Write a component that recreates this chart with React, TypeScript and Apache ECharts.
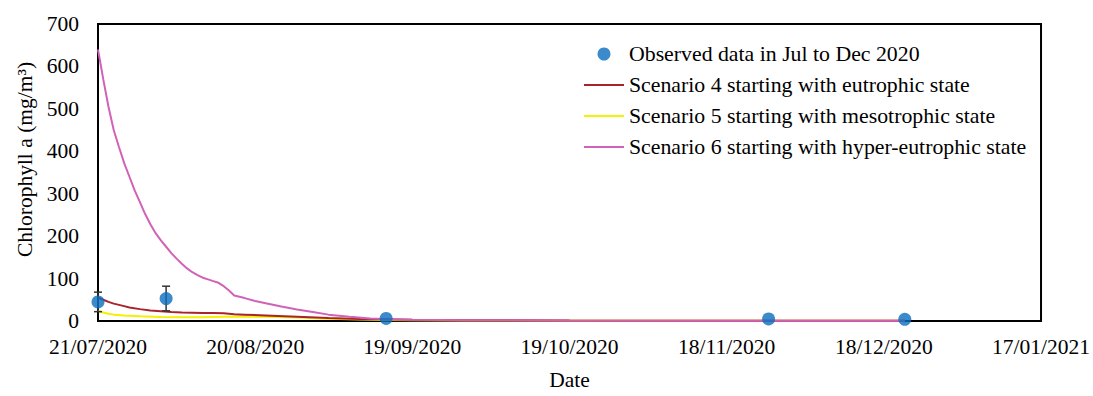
import React, { useEffect, useRef } from "react";
import * as echarts from "echarts";

// Days counted from 21/07/2020
const START_DATE = Date.UTC(2020, 6, 21);
const xTickDays = [0, 30, 60, 90, 120, 150, 180];

// Observed data
const obsDates = ["2020-07-21", "2020-08-03", "2020-09-14", "2020-11-26", "2020-12-22"];
const obsValues = [45, 53, 6, 5, 4];
const obsErrors = [23, 29, 0, 0, 0];

// Scenario 4 (eutrophic start)
const s4Days = [0, 1, 2, 3, 4, 5, 6, 8, 10, 12, 14, 16, 18, 20, 22, 24, 26, 28, 32, 38, 44, 50, 55, 60, 70, 90, 120, 154];
const s4Values = [55, 50, 45, 41, 38, 35, 32, 28, 25, 23, 21, 20, 19.5, 19, 19, 18, 16, 15, 13, 10, 7, 5, 4, 3, 2, 1, 0.5, 0.3];

// Scenario 5 (mesotrophic start)
const s5Days = [0, 1, 2, 3, 5, 8, 12, 16, 20, 24, 28, 32, 38, 44, 50, 55, 60, 70, 90, 120, 154];
const s5Values = [24, 20, 17, 15, 13, 11, 9.5, 9, 9, 10, 10.5, 10, 8, 5.5, 3.5, 2.5, 2, 1.2, 0.8, 0.5, 0.3];

// Scenario 6 (hyper-eutrophic start)
const s6Days = [0, 1, 2, 3, 4, 5, 6, 7, 8, 9, 10, 11, 12, 13, 14, 15, 16, 17, 18, 19, 20, 21, 22, 23, 24, 25, 26, 28, 30, 32, 35, 38, 41, 44, 48, 52, 56, 60, 70, 90, 120, 154];
const s6Values = [640, 570, 505, 450, 410, 372, 340, 308, 280, 252, 228, 207, 190, 175, 160, 147, 135, 124, 115, 108, 102, 98, 94, 90, 82, 72, 60, 54, 47, 42, 34, 27, 21, 15, 10, 6, 4, 3, 2, 1, 0.5, 0.3];

const seriesNames = [
  "Observed data in Jul to Dec 2020",
  "Scenario 4 starting with eutrophic state",
  "Scenario 5 starting with mesotrophic state",
  "Scenario 6 starting with hyper-eutrophic state",
];

const dayOf = (s: string) => Math.round((Date.parse(s + "T00:00:00Z") - START_DATE) / 86400000);
const pad = (n: number) => (n < 10 ? "0" + n : "" + n);
const fmtDay = (v: number) => {
  const d = new Date(START_DATE + v * 86400000);
  return pad(d.getUTCDate()) + "/" + pad(d.getUTCMonth() + 1) + "/" + d.getUTCFullYear();
};
const zip = (xs: number[], ys: number[]) => xs.map((x, i) => [x, ys[i]]);

const FONT = "Liberation Serif";

export default function App() {
  const ref = useRef<HTMLDivElement>(null);
  useEffect(() => {
    document.body.style.margin = "0";
    if (!ref.current) return;
    const chart = echarts.init(ref.current, undefined, { renderer: "svg" });
    const obsData = obsDates.map((d, i) => [dayOf(d), obsValues[i]]);
    const errData = obsDates
      .map((d, i) => [dayOf(d), obsValues[i] - obsErrors[i], obsValues[i] + obsErrors[i]])
      .filter((_, i) => obsErrors[i] > 0);
    chart.setOption({
      animation: false,
      backgroundColor: "#fff",
      textStyle: { fontFamily: FONT, color: "#000" },
      grid: {
        left: 98,
        right: 48,
        top: 24,
        bottom: 67,
        show: true,
        borderColor: "#000",
        borderWidth: 2,
        backgroundColor: "transparent",
      },
      legend: {
        orient: "vertical",
        left: 578,
        top: 37,
        itemWidth: 40,
        itemHeight: 13,
        itemGap: 7,
        data: [
          { name: seriesNames[0] },
          { name: seriesNames[1], itemStyle: { opacity: 0 } },
          { name: seriesNames[2], itemStyle: { opacity: 0 } },
          { name: seriesNames[3], itemStyle: { opacity: 0 } },
        ],
        textStyle: { fontFamily: FONT, fontSize: 21.8, color: "#000", lineHeight: 24 },
      },
      xAxis: {
        type: "value",
        min: 0,
        max: 180,
        interval: 30,
        name: "Date",
        nameLocation: "middle",
        nameGap: 48,
        nameTextStyle: { fontFamily: FONT, fontSize: 21.5, color: "#000" },
        axisLine: { show: true, lineStyle: { color: "#000", width: 2 } },
        axisTick: { show: false },
        splitLine: { show: false },
        axisLabel: {
          margin: 15,
          fontFamily: FONT,
          fontSize: 21.5,
          color: "#000",
          formatter: (v: number) => (xTickDays.indexOf(v) >= 0 ? fmtDay(v) : ""),
        },
      },
      yAxis: {
        type: "value",
        min: 0,
        max: 700,
        interval: 100,
        name: "Chlorophyll a (mg/m³)",
        nameLocation: "middle",
        nameGap: 59,
        nameTextStyle: { fontFamily: FONT, fontSize: 21.5, color: "#000", padding: [0, 0, 0, 26] },
        axisLine: { show: true, lineStyle: { color: "#000", width: 2 } },
        axisTick: { show: false },
        splitLine: { show: false },
        axisLabel: { margin: 19, fontFamily: FONT, fontSize: 21.5, color: "#000" },
      },
      series: [
        {
          name: seriesNames[2],
          type: "line",
          data: zip(s5Days, s5Values),
          symbol: "none",
          lineStyle: { color: "#F4F000", width: 2 },
          itemStyle: { color: "#F4F000" },
          z: 2,
        },
        {
          name: seriesNames[1],
          type: "line",
          data: zip(s4Days, s4Values),
          symbol: "none",
          lineStyle: { color: "#A8232B", width: 2 },
          itemStyle: { color: "#A8232B" },
          z: 3,
        },
        {
          name: seriesNames[3],
          type: "line",
          data: zip(s6Days, s6Values),
          symbol: "none",
          lineStyle: { color: "#D162B8", width: 2 },
          itemStyle: { color: "#D162B8" },
          z: 4,
        },
        {
          type: "custom",
          name: "errorbars",
          data: errData,
          z: 5,
          renderItem: (params: any, api: any) => {
            const x = api.value(0);
            const lo = api.coord([x, api.value(1)]);
            const hi = api.coord([x, api.value(2)]);
            const cap = 4;
            const style = { stroke: "#333", lineWidth: 1.5 };
            return {
              type: "group",
              children: [
                { type: "line", shape: { x1: lo[0], y1: lo[1], x2: hi[0], y2: hi[1] }, style },
                { type: "line", shape: { x1: hi[0] - cap, y1: hi[1], x2: hi[0] + cap, y2: hi[1] }, style },
                { type: "line", shape: { x1: lo[0] - cap, y1: lo[1], x2: lo[0] + cap, y2: lo[1] }, style },
              ],
            };
          },
        },
        {
          name: seriesNames[0],
          type: "scatter",
          data: obsData,
          symbol: "circle",
          symbolSize: 13,
          itemStyle: { color: "#0A6DBE" },
          z: 6,
        },
      ],
    });
    return () => chart.dispose();
  }, []);
  return <div ref={ref} style={{ width: 1093, height: 396 }} />;
}
